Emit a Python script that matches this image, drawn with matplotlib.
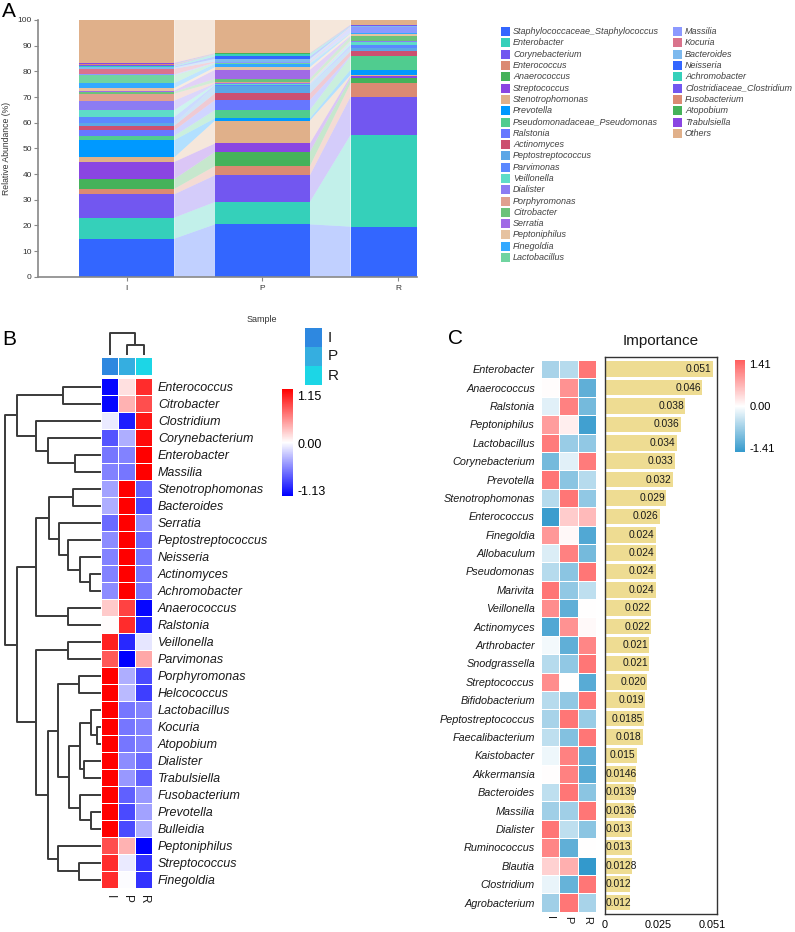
import numpy as np
import matplotlib.pyplot as plt
from matplotlib.patches import Rectangle
from matplotlib.colors import LinearSegmentedColormap, ListedColormap, Normalize
from matplotlib.cm import ScalarMappable

plt.rcParams['font.family'] = ['Liberation Sans', 'DejaVu Sans']

# ---------------- data: panel A (relative abundance, %) ----------------
samples = ['I', 'P', 'R']
taxa = ['Staphylococcaceae_Staphylococcus', 'Enterobacter', 'Corynebacterium', 'Enterococcus',
        'Anaerococcus', 'Streptococcus', 'Stenotrophomonas', 'Prevotella',
        'Pseudomonadaceae_Pseudomonas', 'Ralstonia', 'Actinomyces', 'Peptostreptococcus',
        'Parvimonas', 'Veillonella', 'Dialister', 'Porphyromonas', 'Citrobacter', 'Serratia',
        'Peptoniphilus', 'Finegoldia', 'Lactobacillus', 'Massilia', 'Kocuria', 'Bacteroides',
        'Neisseria', 'Achromobacter', 'Clostridiaceae_Clostridium', 'Fusobacterium',
        'Atopobium', 'Trabulsiella', 'Others']
abund_I = [14.8, 8.2, 9.1, 2.1, 3.8, 6.7, 1.8, 6.7, 1.7, 2.1, 1.8, 0.9, 2.5, 2.7, 3.7, 2.7,
           0.7, 0.5, 1.0, 1.9, 3.0, 0.4, 2.2, 0.5, 0.3, 0.3, 0.4, 0.2, 0.2, 0.4, 16.7]
abund_P = [20.4, 8.7, 10.4, 3.6, 5.5, 3.3, 8.9, 0.9, 3.2, 3.9, 2.6, 2.9, 0.4, 0.3, 0.3, 0.5,
           1.3, 3.5, 1.0, 1.3, 0.3, 0.3, 0.3, 1.0, 1.0, 0.9, 0.1, 0.1, 0.1, 0.1, 12.9]
abund_R = [19.5, 35.7, 14.9, 5.2, 2.0, 0.9, 0.4, 2.0, 5.2, 0.3, 1.7, 1.3, 1.3, 1.0, 0.3, 0.3,
           1.6, 0.3, 0.8, 0.2, 0.2, 2.0, 0.2, 0.2, 0.1, 0.1, 0.3, 0.05, 0.05, 0.1, 1.8]
palette = ['#3366FF', '#35D0BA', '#7257F0', '#DB8A73', '#45B25A', '#8A45E2', '#E0B08A',
           '#0099FF', '#50CC8F', '#6677FF', '#CC5070', '#5CA6E6', '#5B88FF', '#5EDCC8',
           '#8C7CF2', '#E0A08F', '#6CC27A', '#A06AE6', '#E6C2A0', '#33A9FF', '#70D4A0',
           '#8C99FF', '#D9738C', '#7DB9EE']
taxa_colors = (palette * 2)[:len(taxa)]

# ---------------- data: panel B (z-scores, clustered) ----------------
b_rows = ['Enterococcus', 'Citrobacter', 'Clostridium', 'Corynebacterium', 'Enterobacter',
          'Massilia', 'Stenotrophomonas', 'Bacteroides', 'Serratia', 'Peptostreptococcus',
          'Neisseria', 'Actinomyces', 'Achromobacter', 'Anaerococcus', 'Ralstonia',
          'Veillonella', 'Parvimonas', 'Porphyromonas', 'Helcococcus', 'Lactobacillus',
          'Kocuria', 'Atopobium', 'Dialister', 'Trabulsiella', 'Fusobacterium', 'Prevotella',
          'Bulleidia', 'Peptoniphilus', 'Streptococcus', 'Finegoldia']
b_I = [-1.1, -1.1, -0.08, -0.75, -0.6, -0.55, -0.4, -0.35, -0.65, -0.5, -0.55, -0.55, -0.5,
       0.25, 0.02, 1.0, 0.75, 1.15, 1.15, 1.15, 1.15, 1.15, 1.15, 1.15, 1.15, 1.15, 1.15,
       0.8, 0.95, 0.95]
b_P = [0.15, 0.35, -1.0, -0.35, -0.55, -0.6, 1.15, 1.15, 1.15, 1.15, 1.15, 1.15, 1.15,
       0.85, 0.95, -0.95, -1.13, -0.35, -0.3, -0.6, -0.6, -0.6, -0.5, -0.45, -0.7, -0.8,
       -0.8, 0.35, -0.08, 0.0]
b_R = [0.95, 0.8, 1.05, 1.1, 1.15, 1.15, -0.7, -0.8, -0.5, -0.65, -0.6, -0.6, -0.6, -1.1,
       -0.97, -0.1, 0.4, -0.8, -0.85, -0.55, -0.55, -0.55, -0.65, -0.7, -0.45, -0.4, -0.35,
       -1.13, -0.9, -0.9]
# linkage: (node a, node b, height); leaves are 0..29, merges numbered from 30
row_merges = [(0, 1, 37.7), (4, 5, 26), (3, 31, 52.7), (2, 32, 65), (30, 33, 83.7),
              (11, 12, 11), (10, 35, 21), (9, 36, 32.7), (8, 37, 41.7), (6, 7, 27.7),
              (39, 38, 51.7), (13, 14, 32.7), (40, 41, 65), (15, 16, 32.7), (17, 18, 22),
              (20, 21, 4.3), (19, 45, 10.3), (22, 23, 17), (46, 47, 21), (25, 26, 10.3),
              (24, 49, 21), (48, 50, 31.7), (44, 51, 42.7), (28, 29, 22), (27, 53, 42.7),
              (52, 54, 52.7), (43, 55, 65), (42, 56, 83.7), (34, 57, 96)]
col_merges = [(1, 2, 10), (0, 3, 22)]
group_colors = ['#2E88E0', '#35AEE0', '#1CD6E6']

# ---------------- data: panel C (importance + z-scores) ----------------
c_rows = ['Enterobacter', 'Anaerococcus', 'Ralstonia', 'Peptoniphilus', 'Lactobacillus',
          'Corynebacterium', 'Prevotella', 'Stenotrophomonas', 'Enterococcus', 'Finegoldia',
          'Allobaculum', 'Pseudomonas', 'Marivita', 'Veillonella', 'Actinomyces',
          'Arthrobacter', 'Snodgrassella', 'Streptococcus', 'Bifidobacterium',
          'Peptostreptococcus', 'Faecalibacterium', 'Kaistobacter', 'Akkermansia',
          'Bacteroides', 'Massilia', 'Dialister', 'Ruminococcus', 'Blautia', 'Clostridium',
          'Agrobacterium']
importance = [0.051, 0.046, 0.038, 0.036, 0.034, 0.033, 0.032, 0.029, 0.026, 0.024, 0.024,
              0.024, 0.024, 0.022, 0.022, 0.021, 0.021, 0.020, 0.019, 0.0185, 0.018, 0.015,
              0.0146, 0.0139, 0.0136, 0.013, 0.013, 0.0128, 0.012, 0.012]
imp_labels = ['0.051', '0.046', '0.038', '0.036', '0.034', '0.033', '0.032', '0.029', '0.026',
              '0.024', '0.024', '0.024', '0.024', '0.022', '0.022', '0.021', '0.021', '0.020',
              '0.019', '0.0185', '0.018', '0.015', '0.0146', '0.0139', '0.0136', '0.013',
              '0.013', '0.0128', '0.012', '0.012']
c_I = [-0.6, 0.03, -0.2, 0.85, 1.15, -0.95, 1.2, -0.5, -1.35, 0.9, -0.25, -0.5, 1.2, 1.0,
       -1.2, -0.08, -0.5, 1.0, -0.5, -0.6, -0.45, -0.12, 0.02, -0.45, -0.65, 1.2, 1.05, 0.4,
       -0.15, -0.65]
c_P = [-0.5, 0.95, 1.1, 0.15, -0.7, -0.2, -0.8, 1.2, 0.45, 0.06, 1.1, -0.8, -0.75, -1.1,
       0.95, -1.1, -0.75, 0.0, -0.75, 1.2, -0.85, 1.1, 1.1, 1.2, -0.65, -0.45, -1.1, 0.7,
       -1.05, 1.2]
c_R = [1.2, -1.1, -0.95, -1.3, -0.75, 1.15, -0.5, -0.75, 0.6, -1.2, -0.95, 1.2, -0.45, 0.0,
       0.05, 1.05, 1.2, -1.15, 1.2, -0.7, 1.2, -1.1, -1.15, -0.8, 1.2, -0.8, 0.01, -1.41,
       1.2, -0.6]

# ---------------- figure ----------------
W, H = 795, 932
fig = plt.figure(figsize=(W / 100, H / 100), dpi=100)


def box(x0, y0, x1, y1):
    # axes placed by pixel corners (top-left origin)
    return fig.add_axes([x0 / W, 1 - y1 / H, (x1 - x0) / W, (y1 - y0) / H])


def draw_dendro(ax, merges, n, vertical_leaves):
    pos = {i: (i, 0.0) for i in range(n)}
    for k, (a, b, h) in enumerate(merges):
        (pa, ha), (pb, hb) = pos[a], pos[b]
        if vertical_leaves:
            ax.plot([ha, h, h, hb], [pa, pa, pb, pb], color='#3a3a3a', lw=1.4,
                    solid_capstyle='butt', clip_on=False)
        else:
            ax.plot([pa, pa, pb, pb], [ha, h, h, hb], color='#3a3a3a', lw=1.4,
                    solid_capstyle='butt', clip_on=False)
        pos[n + k] = ((pa + pb) / 2, h)


# ---- A: stacked bars with flows ----
axA = box(38, 20, 417, 276.7)
abund = np.array([abund_I, abund_P, abund_R])
top = np.cumsum(abund, axis=1)
low = top - abund
xs = np.arange(len(samples))
bw = 0.7
for j, c in enumerate(taxa_colors):
    axA.bar(xs, abund[:, j], bottom=low[:, j], width=bw, color=c, lw=0)
    for s in range(len(samples) - 1):
        x0, x1 = s + bw / 2, s + 1 - bw / 2
        axA.fill([x0, x1, x1, x0], [low[s, j], low[s + 1, j], top[s + 1, j], top[s, j]],
                 color=c, alpha=0.3, lw=0)
axA.set_xlim(-0.655, 2.14)
axA.set_ylim(0, 100)
axA.set_yticks(range(0, 101, 10))
axA.set_xticks(xs)
axA.set_xticklabels(samples)
for side in ['top', 'right']:
    axA.spines[side].set_visible(False)
for side in ['left', 'bottom']:
    axA.spines[side].set_color('#888888')
    axA.spines[side].set_linewidth(1.2)
axA.tick_params(labelsize=6, colors='#333333', length=3, width=0.8, pad=1.5)
axA.tick_params(axis='both', color='#888888')
axA.tick_params(axis='x', pad=3)
axA.set_ylabel('Relative Abundance (%)', fontsize=6.2, color='#333333')
axA.yaxis.set_label_coords(-0.071, 0.5)
axA.set_xlabel('Sample', fontsize=6.5, color='#333333')
axA.xaxis.set_label_coords(0.591, -0.148)

# legend
axL = box(495, 20, 795, 275)
axL.set_xlim(495, 795)
axL.set_ylim(275, 20)
axL.axis('off')
for k, (name, c) in enumerate(zip(taxa, taxa_colors)):
    col, row = (0, k) if k < 21 else (1, k - 21)
    lx = 501 if col == 0 else 673
    ly = 31.7 + 11.29 * row
    axL.add_patch(Rectangle((lx, ly - 4.5), 9, 9, color=c, lw=0))
    axL.text(lx + 12, ly, name, fontsize=6.5, style='italic', va='center', color='#404040')

# ---- B: clustered heatmap ----
cmapB = LinearSegmentedColormap.from_list('bwr_b', ['#0000FF', '#FFFFFF', '#FF0000'])
normB = Normalize(-1.13, 1.15)
matB = np.array([b_I, b_P, b_R]).T
axB = box(101, 378.3, 152.3, 888.3)
axB.pcolormesh(matB, cmap=cmapB, norm=normB, edgecolors='white', linewidth=0.6)
axB.set_ylim(len(b_rows), 0)
axB.set_xlim(0, 3)
axB.yaxis.tick_right()
axB.set_yticks(np.arange(len(b_rows)) + 0.5)
axB.set_yticklabels(b_rows, fontsize=9, style='italic', color='#1a1a1a')
axB.set_xticks(np.arange(3) + 0.5)
axB.set_xticklabels(samples, rotation=270, fontsize=8.5, color='#1a1a1a')
axB.tick_params(length=0, pad=4)
axB.tick_params(axis='x', pad=5)
for sp in axB.spines.values():
    sp.set_visible(False)

axBa = box(101, 356.7, 152.3, 375)
axBa.pcolormesh(np.array([[0, 1, 2]]), cmap=ListedColormap(group_colors),
                edgecolors='white', linewidth=0.6)
axBa.axis('off')

axBr = box(0, 378.3, 101, 888.3)
draw_dendro(axBr, row_merges, len(b_rows), True)
axBr.set_xlim(101, 0)
axBr.set_ylim(len(b_rows) - 0.5, -0.5)
axBr.axis('off')

axBc = box(101, 333, 152.3, 355)
draw_dendro(axBc, col_merges, 3, False)
axBc.set_xlim(-0.5, 2.5)
axBc.set_ylim(0, 22)
axBc.axis('off')

caxB = box(282.3, 389, 293.3, 495.7)
cbB = fig.colorbar(ScalarMappable(Normalize(-1.25, 1.3), cmapB), cax=caxB)
cbB.set_ticks([-1.13, 0, 1.15])
cbB.set_ticklabels(['-1.13', '0.00', '1.15'])
cbB.outline.set_visible(False)
caxB.tick_params(length=0, labelsize=9, pad=3)

axBg = box(305, 328, 322, 385)
axBg.pcolormesh(np.array([[0], [1], [2]]), cmap=ListedColormap(group_colors))
axBg.set_ylim(3, 0)
axBg.axis('off')
for k, s in enumerate(samples):
    axBg.text(1.35, k + 0.5, s, transform=axBg.transData, fontsize=11, va='center',
              color='#1a1a1a')
axBg.set_xlim(0, 1)

# ---- C: importance ----
cmapC = LinearSegmentedColormap.from_list('bwr_c', ['#3399CC', '#FFFFFF', '#FF5E5E'])
normC = Normalize(-1.41, 1.41)
matC = np.array([c_I, c_P, c_R]).T
axC = box(541, 360, 596, 911.7)
axC.pcolormesh(matC, cmap=cmapC, norm=normC, edgecolors='white', linewidth=0.6)
axC.set_ylim(len(c_rows), 0)
axC.set_xlim(0, 3)
axC.set_yticks(np.arange(len(c_rows)) + 0.5)
axC.set_yticklabels(c_rows, fontsize=7.8, style='italic', color='#1a1a1a')
axC.set_xticks(np.arange(3) + 0.5)
axC.set_xticklabels(samples, rotation=270, fontsize=8, color='#1a1a1a')
axC.tick_params(length=0, pad=4.3)
axC.tick_params(axis='x', pad=3)
for sp in axC.spines.values():
    sp.set_visible(False)

axI = box(605, 356.7, 716.7, 914)
ys = np.arange(len(c_rows))
axI.barh(ys, importance, height=0.85, color='#EEDC92', lw=0)
for y, v, lab in zip(ys, importance, imp_labels):
    if v >= 0.015:
        axI.text(v - 0.0006, y, lab, ha='right', va='center', fontsize=7.4, color='#1a1a1a')
    else:
        axI.text(0.0004, y, lab, ha='left', va='center', fontsize=7.4, color='#1a1a1a')
axI.set_ylim(len(c_rows) - 0.375, -0.68)
axI.set_xlim(0, 0.0529)
axI.set_yticks([])
axI.set_xticks([0, 0.025, 0.051])
axI.set_xticklabels(['0', '0.025', '0.051'])
axI.tick_params(axis='x', length=0, labelsize=7.8, pad=4)
for sp in axI.spines.values():
    sp.set_color('#333333')
    sp.set_linewidth(1.0)

caxC = box(735, 360, 745, 452.3)
cbC = fig.colorbar(ScalarMappable(Normalize(-1.55, 1.55), cmapC), cax=caxC)
cbC.set_ticks([-1.41, 0, 1.41])
cbC.set_ticklabels(['-1.41', '0.00', '1.41'])
cbC.outline.set_visible(False)
caxC.tick_params(length=0, labelsize=8, pad=3)

fig.text(660.5 / W, 1 - 345 / H, 'Importance', ha='center', va='baseline', fontsize=11,
         color='#1a1a1a')

# panel letters
fig.text(2 / W, 1 - 16.7 / H, 'A', fontsize=15, va='baseline')
fig.text(2 / W, 1 - 345 / H, 'B', fontsize=15, va='baseline')
fig.text(448 / W, 1 - 344.3 / H, 'C', fontsize=15, va='baseline')

fig.savefig('out.png', dpi=100)
